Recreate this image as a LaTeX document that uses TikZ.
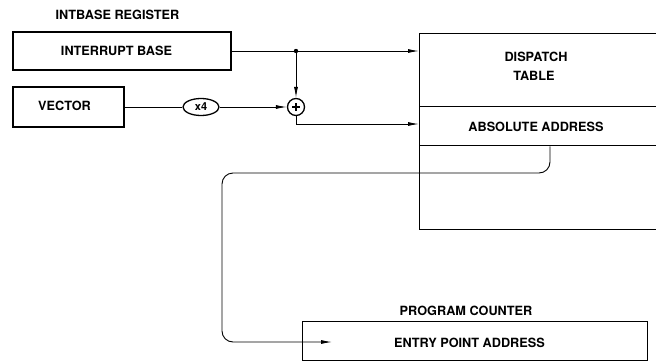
\documentclass[tikz,border=0pt]{standalone}
\usepackage{fontspec}
\setmainfont{TeX Gyre Heros}
\usetikzlibrary{arrows.meta,calc,shapes.geometric}
\begin{document}
\begin{tikzpicture}[x=1pt,y=-1pt,
  box/.style={draw,line width=1.4pt,inner sep=0pt},
  lbl/.style={inner sep=0pt,font=\bfseries\fontsize{12.7}{15}\selectfont},
  conn/.style={line width=0.9pt},
  arr/.style={conn,-{Latex[length=11pt,width=4pt]}}]
\useasboundingbox (0,0) rectangle (656,362);
\node[lbl] (intreg) at (117.5,14.5) {INTBASE REGISTER};
\node[box,minimum width=218pt,minimum height=38pt] (ib) at (122,51) {};
\node[lbl] (ibl) at (116.5,50.5) {INTERRUPT BASE};
\node[box,minimum width=111pt,minimum height=40pt] (vec) at (68.5,107) {};
\node[lbl] (vecl) at (64.5,105.5) {VECTOR};
\node[draw,line width=1.3pt,ellipse,minimum width=36pt,minimum height=17pt,inner sep=0pt,font=\bfseries\fontsize{11}{12}\selectfont] (x4) at (201,107) {x4};
\node[draw,line width=1.3pt,circle,minimum size=17pt,inner sep=0pt] (plus) at (296,107) {};
\draw[line width=1.4pt] ($(plus.center)+(-4,0)$) -- ($(plus.center)+(4,0)$) ($(plus.center)+(0,-4)$) -- ($(plus.center)+(0,4)$);
\coordinate (dot) at (296,51);
\fill (dot) circle (2.2pt);
% dispatch table
\node[box,anchor=north west,minimum width=250pt,minimum height=73pt] (dt) at (419,33) {};
\node[box,anchor=north west,minimum width=250pt,minimum height=39pt] (abs) at (419,106) {};
\node[box,anchor=north west,minimum width=250pt,minimum height=84pt] (dtb) at (419,145) {};
\node[lbl] (dt1) at (536,57) {DISPATCH};
\node[lbl] (dt2) at (534,76) {TABLE};
\node[lbl] (absl) at (536,126.5) {ABSOLUTE ADDRESS};
% program counter
\node[lbl] (pclbl) at (466,311) {PROGRAM COUNTER};
\node[box,anchor=north west,minimum width=345pt,minimum height=39pt] (pc) at (302,321) {};
\node[lbl] (pcl) at (469.5,343) {ENTRY POINT ADDRESS};
% connectors
\draw[conn] (ib.east) -- (dot);
\draw[arr] (dot) -- (dt.west |- dot);
\draw[arr] (dot) -- (plus.north);
\draw[conn] (vec.east) -- (x4.west);
\draw[arr] (x4.east) -- (plus.west);
\draw[arr] (plus.south) |- (abs.west |- 0,124);
\coordinate (tip) at (332,342);
\draw[arr,rounded corners=11pt] (abs.south -| 550,0) -- (550,173) -- (222,173) -- (222,342) -- (tip);
\end{tikzpicture}
\end{document}
